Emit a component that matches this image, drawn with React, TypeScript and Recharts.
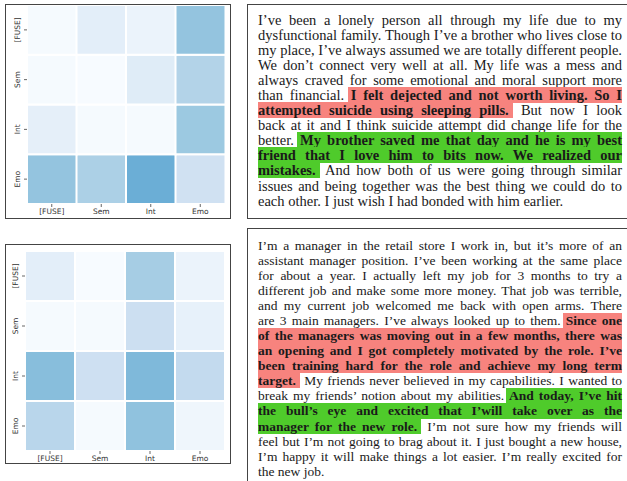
import React from 'react';
import { BarChart, Bar, Cell, XAxis, YAxis } from 'recharts';

const xLabels = ['[FUSE]', 'Sem', 'Int', 'Emo'];
const yLabels = ['[FUSE]', 'Sem', 'Int', 'Emo'];

// attention weights, rows top -> bottom
const topValues = [
  [0.01, 0.10, 0.06, 0.40],
  [0.01, 0.00, 0.12, 0.31],
  [0.09, 0.01, 0.01, 0.38],
  [0.40, 0.33, 0.50, 0.20],
];
const bottomValues = [
  [0.10, 0.00, 0.35, 0.06],
  [0.01, 0.01, 0.22, 0.08],
  [0.43, 0.21, 0.45, 0.26],
  [0.29, 0.01, 0.41, 0.04],
];

// [text, kind] ; kind: n = normal, r = red bold, g = green bold
type Seg = [string, string];
const topLines: Seg[][] = [
  [["I’ve been a lonely person all through my life due to my", 'n']],
  [["dysfunctional family. Though I’ve a brother who lives close to", 'n']],
  [["my place, I’ve always assumed we are totally different people.", 'n']],
  [["We don’t connect very well at all. My life was a mess and", 'n']],
  [["always craved for some emotional and moral support more", 'n']],
  [["than financial. ", 'n'], ["I felt dejected and not worth living. So I", 'r']],
  [["attempted suicide using sleeping pills.", 'r'], [" But now I look", 'n']],
  [["back at it and I think suicide attempt did change life for the", 'n']],
  [["better. ", 'n'], ["My brother saved me that day and he is my best", 'g']],
  [["friend that I love him to bits now. We realized our", 'g']],
  [["mistakes.", 'g'], [" And how both of us were going through similar", 'n']],
  [["issues and being together was the best thing we could do to", 'n']],
  [["each other. I just wish I had bonded with him earlier.", 'n']],
];
const bottomLines: Seg[][] = [
  [["I’m a manager in the retail store I work in, but it’s more of an", 'n']],
  [["assistant manager position. I’ve been working at the same place", 'n']],
  [["for about a year. I actually left my job for 3 months to try a", 'n']],
  [["different job and make some more money. That job was terrible,", 'n']],
  [["and my current job welcomed me back with open arms. There", 'n']],
  [["are 3 main managers. I’ve always looked up to them. ", 'n'], ["Since one", 'r']],
  [["of the managers was moving out in a few months, there was", 'r']],
  [["an opening and I got completely motivated by the role. I’ve", 'r']],
  [["been training hard for the role and achieve my long term", 'r']],
  [["target.", 'r'], [" My friends never believed in my capabilities. I wanted to", 'n']],
  [["break my friends’ notion about my abilities. ", 'n'], ["And today, I’ve hit", 'g']],
  [["the bull’s eye and excited that I’will take over as the", 'g']],
  [["manager for the new role.", 'g'], [" I’m not sure how my friends will", 'n']],
  [["feel but I’m not going to brag about it. I just bought a new house,", 'n']],
  [["I’m happy it will make things a lot easier. I’m really excited for", 'n']],
  [["the new job.", 'n']],
];

const blues = ['#f7fbff', '#deebf7', '#c6dbef', '#9ecae1', '#6baed6', '#4292c6', '#2171b5', '#08519c', '#08306b'];

function bluesColor(v: number) {
  const t = Math.max(0, Math.min(1, v)) * 8;
  const i = Math.min(7, Math.floor(t));
  const f = t - i;
  const a = blues[i], b = blues[i + 1];
  const ch = (k: number) => {
    const x = parseInt(a.slice(k, k + 2), 16), y = parseInt(b.slice(k, k + 2), 16);
    return Math.round(x + (y - x) * f).toString(16).padStart(2, '0');
  };
  return '#' + ch(1) + ch(3) + ch(5);
}

const labelFont = { fontSize: 7.5, fill: '#333', fontFamily: 'DejaVu Sans' };

const YTick = (props: any) => {
  const { x, y, payload } = props;
  const label = yLabels[3 - Math.floor(payload.value)];
  return (
    <g transform={`translate(${x},${y})`}>
      <text transform="rotate(-90)" textAnchor="middle" dy={-2} {...labelFont}>{label}</text>
    </g>
  );
};

const Heatmap = ({ values, top, height, margin }: any) => {
  const data = xLabels.map((name) => ({ name, r0: 1, r1: 1, r2: 1, r3: 1 }));
  return (
    <div style={{ position: 'absolute', left: 0, top, width: 240, height }}>
      <BarChart width={240} height={height} data={data} margin={margin} barCategoryGap={0} barGap={0}>
        <XAxis dataKey="name" axisLine={false} tickSize={3} tickLine={{ stroke: '#666' }} tick={labelFont} interval={0} height={15} />
        <YAxis type="number" domain={[0, 4]} ticks={[0.5, 1.5, 2.5, 3.5]} axisLine={false} tickSize={3}
          tickLine={{ stroke: '#666' }} tick={<YTick />} width={20} />
        {[3, 2, 1, 0].map((r) => (
          <Bar key={r} dataKey={`r${r}`} stackId="s" isAnimationActive={false} stroke="#fff" strokeWidth={2}>
            {xLabels.map((_, c) => <Cell key={c} fill={bluesColor(values[r][c])} />)}
          </Bar>
        ))}
      </BarChart>
    </div>
  );
};

const bg: Record<string, string> = { r: '#f7837e', g: '#4fcb2b' };

const TextPanel = ({ lines, top, size }: { lines: Seg[][]; top: number; size: number }) => {
  const padV = Math.max(0, (15.1 - size * 1.107) / 2);
  return (
    <div style={{ position: 'absolute', left: 258, top, width: 364, fontFamily: 'Liberation Serif', fontSize: size, color: '#1a1a1a' }}>
      {lines.map((segs, i) => (
        <div key={i} style={{ lineHeight: '15.1px', height: 15.1, textAlign: 'justify', textAlignLast: i === lines.length - 1 ? 'left' : 'justify' }}>
          {segs.map(([t, k], j) => {
            if (k === 'n') return <span key={j}>{t}</span>;
            const padL = j > 0 ? 3 : 0;
            const padR = j < segs.length - 1 ? 4 : 0;
            return (
              <span key={j} style={{ background: bg[k], fontWeight: 'bold', paddingTop: padV, paddingBottom: padV, paddingLeft: padL, paddingRight: padR, marginLeft: -padL }}>{t}</span>
            );
          })}
        </div>
      ))}
    </div>
  );
};

const frame = (left: number, top: number, width: number, height: number): React.CSSProperties => ({
  position: 'absolute', left, top, width, height, border: '1.5px solid #444', boxSizing: 'border-box',
});

export default function App() {
  return (
    <div style={{ position: 'absolute', left: 0, top: 0, width: 627, height: 481, overflow: 'hidden', background: '#fff' }}>
      <Heatmap values={topValues} top={0} height={225} margin={{ top: 5, right: 15, bottom: 6, left: 7 }} />
      <Heatmap values={bottomValues} top={240} height={230} margin={{ top: 11, right: 15, bottom: 4, left: 5 }} />
      <div style={frame(5, 4, 226, 215)} />
      <div style={frame(5, 244, 226, 220)} />
      <div style={frame(247, 4, 400, 215)} />
      <div style={frame(247, 228, 400, 300)} />
      <TextPanel lines={topLines} top={12.5} size={14.5} />
      <TextPanel lines={bottomLines} top={237.5} size={13.5} />
    </div>
  );
}
